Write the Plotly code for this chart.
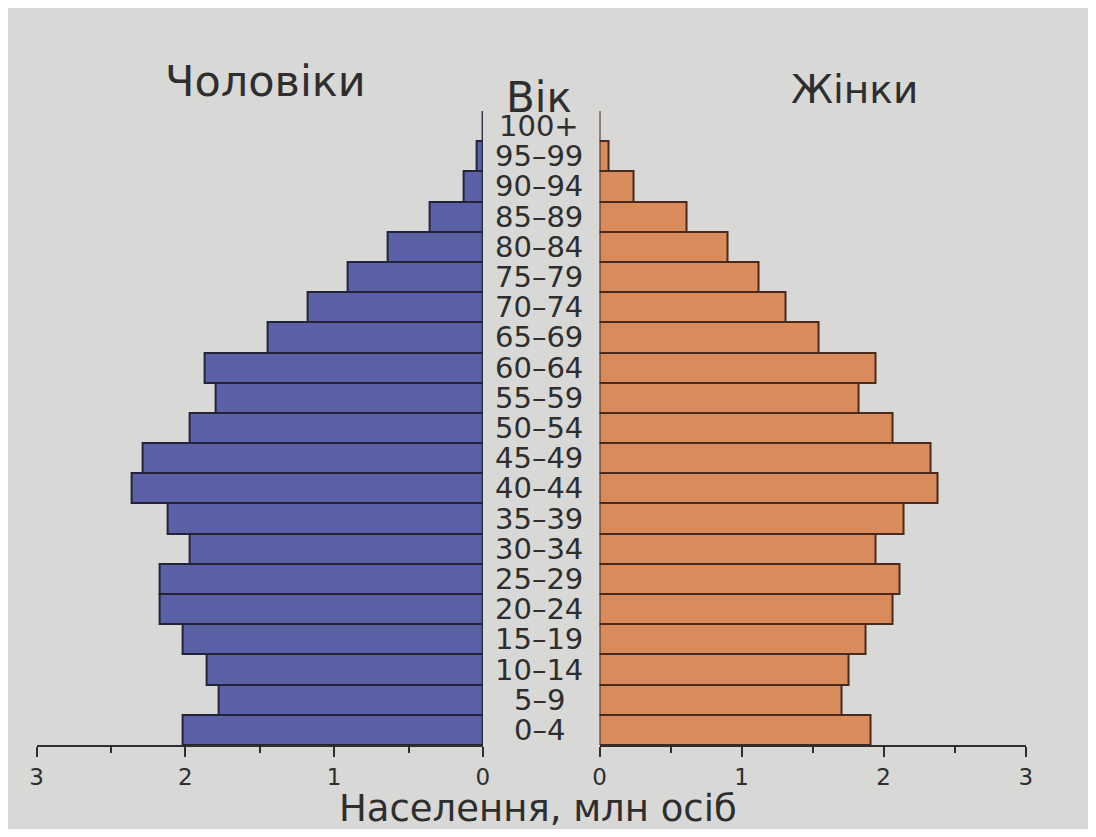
import plotly.graph_objects as go

ages = ["0–4", "5–9", "10–14", "15–19", "20–24", "25–29", "30–34", "35–39",
        "40–44", "45–49", "50–54", "55–59", "60–64", "65–69", "70–74", "75–79",
        "80–84", "85–89", "90–94", "95–99", "100+"]
men = [2.02, 1.78, 1.86, 2.02, 2.17, 2.17, 1.97, 2.12, 2.36, 2.29, 1.97, 1.80,
       1.87, 1.45, 1.18, 0.91, 0.64, 0.36, 0.13, 0.04, 0.0]
women = [1.91, 1.70, 1.75, 1.87, 2.06, 2.11, 1.94, 2.14, 2.38, 2.33, 2.06, 1.82,
         1.94, 1.54, 1.31, 1.12, 0.90, 0.61, 0.24, 0.06, 0.0]
tick_vals = [0, 1, 2, 3]
tick_text = ["0", "1", "2", "3"]

# figure size and calibrated mapping from target screen pixels to paper fractions
W, H = 1080, 821
PX0, PW = 16.5, 1060.5
OY = 8


def fx(x):
    return (x - PX0) / PW


def fy(y):
    return 1 - (y - OY) / H


BG = "#d8d8d6"
TXT = "#2e2e2e"
FONT = "DejaVu Sans, Liberation Sans, Arial, sans-serif"

fig = go.Figure()
fig.add_trace(go.Bar(y=ages, x=men, orientation="h", xaxis="x", yaxis="y",
                     marker=dict(color="#5a61a7", line=dict(color="#23233a", width=2)),
                     showlegend=False))
fig.add_trace(go.Bar(y=ages, x=women, orientation="h", xaxis="x2", yaxis="y",
                     marker=dict(color="#da8b5c", line=dict(color="#4a2a1c", width=2)),
                     showlegend=False))

axis_common = dict(
    tickvals=tick_vals, ticktext=tick_text, ticks="outside", ticklen=10, tickwidth=2,
    tickcolor=TXT, showline=True, linecolor=TXT, linewidth=2, showgrid=False,
    zeroline=False, anchor="y",
    tickfont=dict(family=FONT, size=23, color=TXT),
    minor=dict(dtick=0.5, ticks="outside", ticklen=6, tickwidth=2, tickcolor=TXT),
)
fig.update_layout(
    width=W, height=H,
    paper_bgcolor=BG, plot_bgcolor=BG,
    margin=dict(l=0, r=0, t=0, b=0),
    bargap=0,
    xaxis=dict(domain=[fx(38), fx(482)], range=[3, 0], **axis_common),
    xaxis2=dict(domain=[fx(598), fx(1022)], range=[0, 3], **axis_common),
    yaxis=dict(domain=[fy(745), fy(111)], range=[-0.5, 20.5], showticklabels=False,
               showgrid=False, zeroline=False, showline=False, ticks=""),
    font=dict(family=FONT, color=TXT),
)

for a in ages:
    fig.add_annotation(x=fx(538), xref="paper", y=a, yref="y", text=a, showarrow=False,
                       font=dict(family=FONT, size=29, color=TXT), xanchor="center",
                       yanchor="middle")

titles = [("Чоловіки", 266, 81, 43), ("Жінки", 852, 89, 39), ("Вік", 538, 97, 42),
          ("Населення, млн осіб", 537, 808, 37)]
for text, x, y, size in titles:
    fig.add_annotation(x=fx(x), y=fy(y), xref="paper", yref="paper", text=text,
                       showarrow=False, xanchor="center", yanchor="middle",
                       font=dict(family=FONT, size=size, color=TXT))

fig.write_html("out.html")
